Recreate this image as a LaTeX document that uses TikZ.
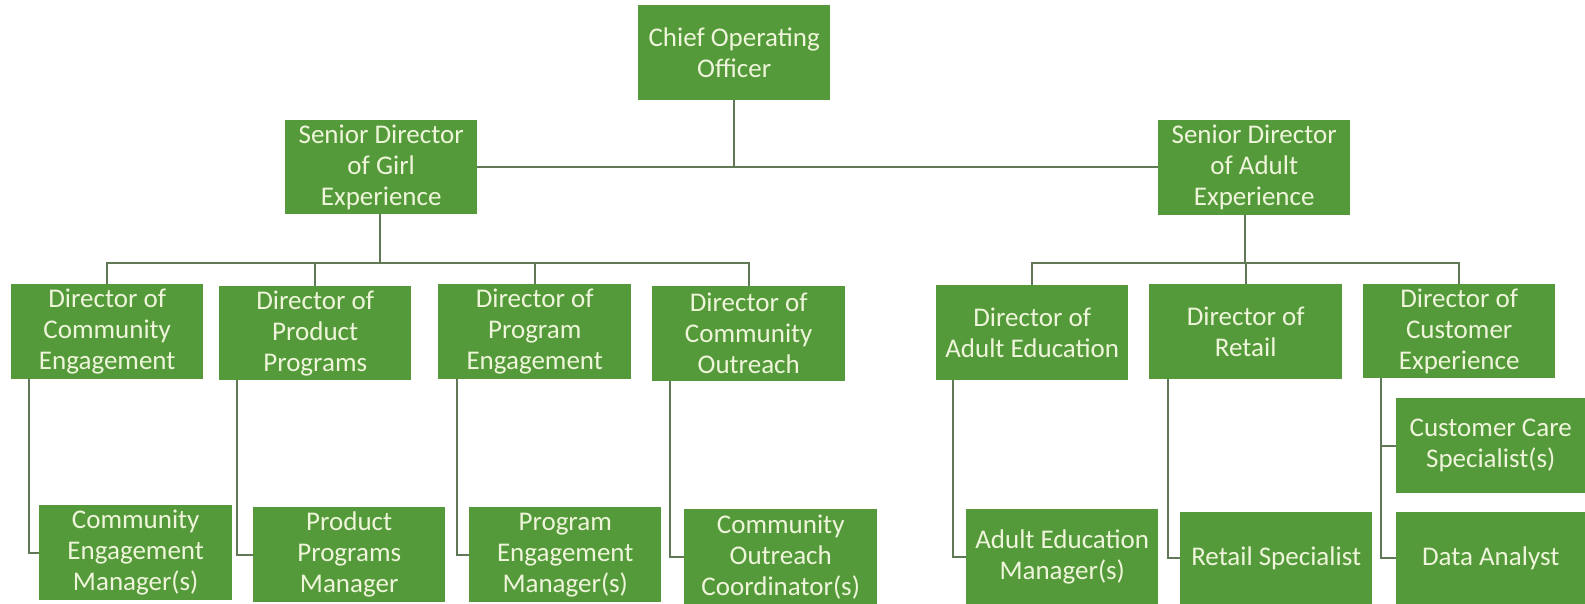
\documentclass[tikz,border=0pt]{standalone}
\usepackage{fontspec}
\setmainfont{Carlito}
\definecolor{boxgreen}{RGB}{84,154,58}
\definecolor{boxtext}{RGB}{238,245,218}
\definecolor{linecol}{RGB}{96,120,86}
\begin{document}
\begin{tikzpicture}[x=1pt,y=-1pt,
  orgbox/.style={fill=boxgreen, draw=none, text=boxtext, anchor=north west,
    minimum width=192pt, minimum height=95pt, inner sep=0pt, align=center,
    font=\fontsize{27}{31}\selectfont},
  conn/.style={draw=linecol, line width=2pt}]
\fill[white] (0,0) rectangle (1585,604);
\useasboundingbox (0,0) rectangle (1585,604);
% top level
\node[orgbox] (coo) at (638,5) {Chief Operating\\Officer};
\node[orgbox, minimum height=94pt] (girl) at (285,120) {Senior Director\\of Girl\\Experience};
\node[orgbox] (adult) at (1158,120) {Senior Director\\of Adult\\Experience};
% directors
\node[orgbox] (d1) at (11,284) {Director of\\Community\\Engagement};
\node[orgbox, minimum height=94pt] (d2) at (219,286) {Director of\\Product\\Programs};
\node[orgbox, minimum width=193pt] (d3) at (438,284) {Director of\\Program\\Engagement};
\node[orgbox, minimum width=193pt] (d4) at (652,286) {Director of\\Community\\Outreach};
\node[orgbox] (d5) at (936,285) {Director of\\Adult Education};
\node[orgbox, minimum width=193pt] (d6) at (1149,284) {Director of\\Retail};
\node[orgbox, minimum height=94pt] (d7) at (1363,284) {Director of\\Customer\\Experience};
% staff
\node[orgbox, minimum width=193pt] (m1) at (39,505) {Community\\Engagement\\Manager(s)};
\node[orgbox] (m2) at (253,507) {Product\\Programs\\Manager};
\node[orgbox] (m3) at (469,507) {Program\\Engagement\\Manager(s)};
\node[orgbox, minimum width=193pt] (m4) at (684,509) {Community\\Outreach\\Coordinator(s)};
\node[orgbox] (m5) at (966,509) {Adult Education\\Manager(s)};
\node[orgbox, minimum height=92pt] (m6) at (1180,512) {Retail Specialist};
\node[orgbox, minimum width=189pt] (m7) at (1396,398) {Customer Care\\Specialist(s)};
\node[orgbox, minimum width=189pt, minimum height=92pt] (m8) at (1396,512) {Data Analyst};
% bus coordinates
\coordinate (gbus) at (380,263);
\coordinate (abus) at (1245,263);
% top connectors
\draw[conn] (girl.east) -- (girl.east -| adult.west);
\draw[conn] (coo.south) -- (coo.south |- girl.east);
% girl experience
\draw[conn] (gbus |- girl.south) -- (gbus);
\draw[conn] (d1.north) -- (d1.north |- gbus) -- (d4.north |- gbus) -- (d4.north);
\draw[conn] (d2.north) -- (d2.north |- gbus);
\draw[conn] (d3.north) -- (d3.north |- gbus);
% adult experience
\draw[conn] (abus |- adult.south) -- (abus);
\draw[conn] (d5.north) -- (d5.north |- abus) -- (d7.north |- abus) -- (d7.north);
\draw[conn] (d6.north) -- (d6.north |- abus);
% staff connectors
\draw[conn] ([xshift=18pt]d1.south west) |- (m1.west);
\draw[conn] ([xshift=18pt]d2.south west) |- (m2.west);
\draw[conn] ([xshift=19pt]d3.south west) |- (m3.west);
\draw[conn] ([xshift=18pt]d4.south west) |- (m4.west);
\draw[conn] ([xshift=17pt]d5.south west) |- (m5.west);
\draw[conn] ([xshift=19pt]d6.south west) |- (m6.west);
\draw[conn] ([xshift=18pt]d7.south west) |- (m8.west);
\draw[conn] ([xshift=18pt]d7.south west |- m7.west) -- (m7.west);
\end{tikzpicture}
\end{document}
